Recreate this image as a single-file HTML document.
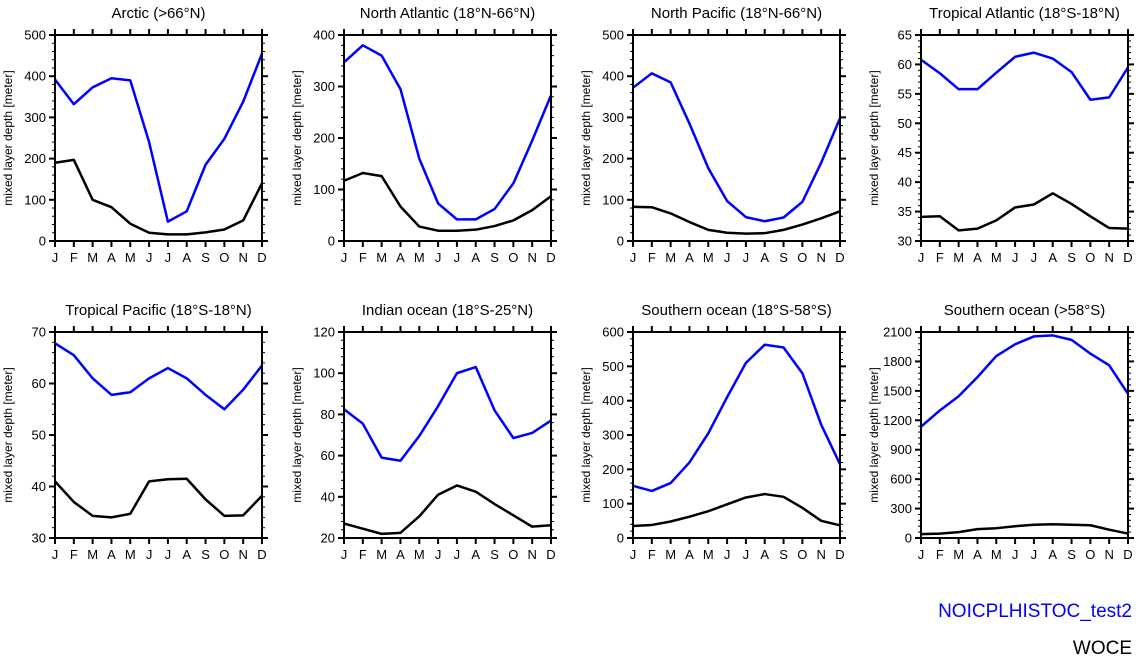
<!DOCTYPE html>
<html><head><meta charset="utf-8"><style>
body{margin:0;background:#fff;}
svg{display:block;font-family:"Liberation Sans",Arial,sans-serif;}
</style></head><body>
<svg id="c" width="1138" height="660" viewBox="0 0 1138 660">
<text x="1132" y="617" text-anchor="end" font-size="19" fill="#0000ff">NOICPLHISTOC_test2</text>
<text x="1132" y="654" text-anchor="end" font-size="19" fill="#000">WOCE</text>
</svg>
<script>
const months=["J","F","M","A","M","J","J","A","S","O","N","D"];
const titles=["Arctic (>66°N)","North Atlantic (18°N-66°N)","North Pacific (18°N-66°N)","Tropical Atlantic (18°S-18°N)","Tropical Pacific (18°S-18°N)","Indian ocean (18°S-25°N)","Southern ocean (18°S-58°S)","Southern ocean (>58°S)"];
const yMin=[0,0,0,30,30,20,0,0];
const yMax=[500,400,500,65,70,120,600,2100];
const yStep=[100,100,100,5,10,20,100,300];
const yMinor=[20,20,20,1,2,4,20,60];
const modelVals=[
[392,332,373,395,390,240,47,72,185,248,338,455],
[347,380,360,295,160,73,42,42,62,112,195,283],
[372,407,385,285,177,97,58,48,57,95,190,298],
[60.8,58.5,55.8,55.8,58.6,61.3,62,61,58.7,54,54.4,59.5],
[67.8,65.5,61,57.8,58.3,61,63,61,57.8,55,58.8,63.5],
[82.5,75.5,59,57.5,69.5,84,100,103,82,68.5,71,77],
[152,137,160,220,305,410,510,563,555,480,330,215],
[1135,1300,1445,1640,1855,1975,2055,2065,2020,1880,1760,1470]];
const woceVals=[
[190,197,100,82,42,20,16,16,21,28,50,140],
[117,132,126,67,28,20,20,22,29,40,60,87],
[83,82,67,46,27,20,18,19,27,40,55,72],
[34.1,34.2,31.8,32.1,33.5,35.7,36.2,38.1,36.3,34.2,32.2,32.1],
[41,37,34.3,34,34.7,41,41.4,41.5,37.5,34.3,34.4,38.2],
[27,24.5,22,22.5,30.5,41,45.5,42.5,36.5,31,25.5,26.2],
[35,38,48,62,78,98,118,128,120,88,50,37],
[40,45,60,90,100,120,135,140,135,130,85,45]];

const svg=document.getElementById('c');
const NS="http://www.w3.org/2000/svg";
function mk(t,a,p){const e=document.createElementNS(NS,t);for(const k in a)e.setAttribute(k,a[k]);(p||svg).appendChild(e);return e;}
const lefts=[55,344,633,921], tops=[35,332], W=207, H=206;
for(let i=0;i<8;i++){
  const L=lefts[i%4], T=tops[Math.floor(i/4)], R=L+W, B=T+H;
  const g=mk('g',{});
  
  
  const x=m=>L+m*W/11;
  const y=v=>B-(v-yMin[i])/(yMax[i]-yMin[i])*H;
  const t=mk('text',{x:(L+R)/2,y:T-17,'text-anchor':'middle','font-size':15},g);t.textContent=titles[i];
  
  const yl=mk('text',{transform:`translate(${L-43},${(T+B)/2}) rotate(-90)`,'text-anchor':'middle','font-size':12},g);yl.textContent="mixed layer depth [meter]";
  
  for(let v=yMin[i];v<=yMax[i]+1e-9;v+=yMinor[i]){const yy=y(v);
    mk('line',{x1:L-3,x2:L,y1:yy,y2:yy,stroke:'#000','stroke-width':1},g);
    mk('line',{x1:R,x2:R+3,y1:yy,y2:yy,stroke:'#000','stroke-width':1},g);}
  for(let v=yMin[i];v<=yMax[i]+1e-9;v+=yStep[i]){const yy=y(v);
    mk('line',{x1:L-6,x2:L,y1:yy,y2:yy,stroke:'#000','stroke-width':2},g);
    mk('line',{x1:R,x2:R+6,y1:yy,y2:yy,stroke:'#000','stroke-width':2},g);
    const tl=mk('text',{x:L-9,y:yy+4.5,'text-anchor':'end','font-size':13},g);tl.textContent=Math.round(v);
    }
  for(let m=0;m<12;m++){const xx=x(m);
    mk('line',{x1:xx,x2:xx,y1:B,y2:B+6,stroke:'#000','stroke-width':2},g);
    mk('line',{x1:xx,x2:xx,y1:T-6,y2:T,stroke:'#000','stroke-width':2},g);
    const ml=mk('text',{x:xx,y:B+21,'text-anchor':'middle','font-size':13},g);ml.textContent=months[m];
    }
  const sb=mk('polyline',{points:woceVals[i].map((v,m)=>x(m)+','+y(v)).join(' '),fill:'none',stroke:'#000','stroke-width':2.5,'stroke-linejoin':'round'},g);
  
  const sm=mk('polyline',{points:modelVals[i].map((v,m)=>x(m)+','+y(v)).join(' '),fill:'none',stroke:'#0000ff','stroke-width':2.5,'stroke-linejoin':'round'},g);
  
  const fr=mk('rect',{x:L,y:T,width:W,height:H,fill:'none',stroke:'#000','stroke-width':2},g);
  
}
</script>
</body></html>
